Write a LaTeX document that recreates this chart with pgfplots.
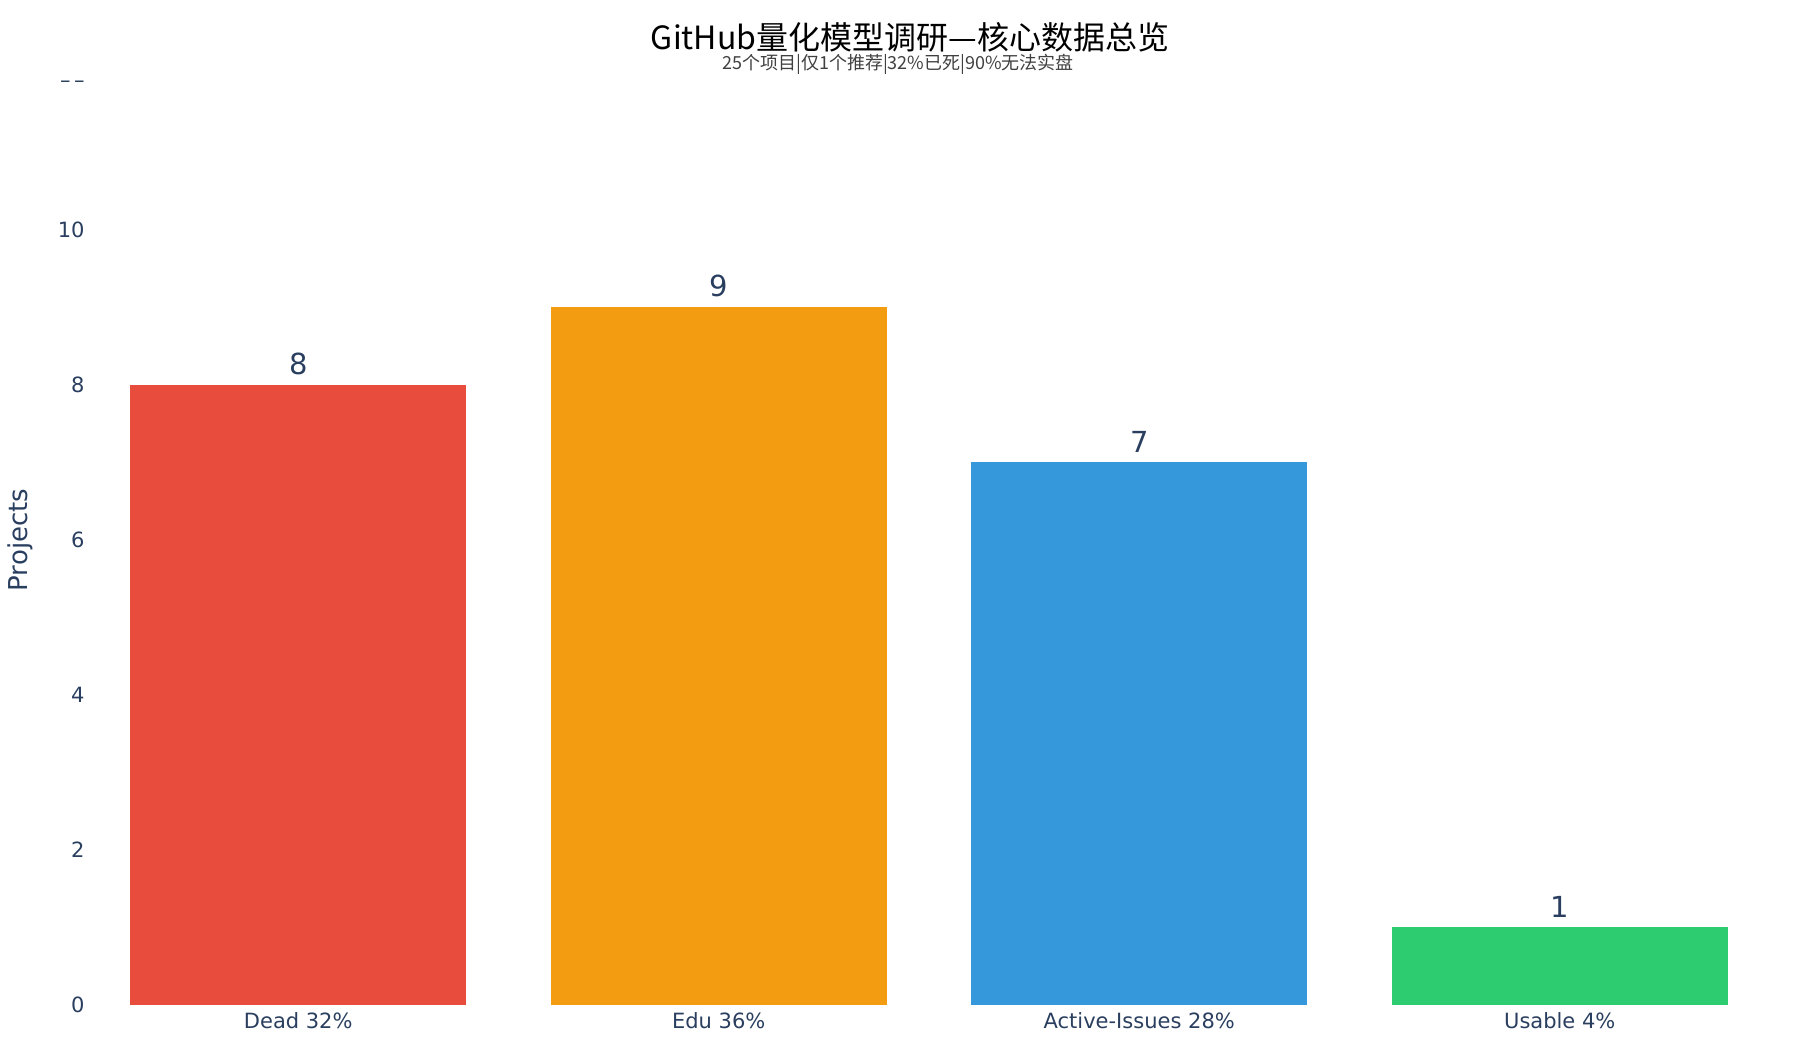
\documentclass[border=0pt]{standalone}
\usepackage{pgfplots}
\pgfplotsset{compat=1.18}
\usepackage{fontspec}
\setmainfont{DejaVu Sans}
\newfontfamily\cjk{Noto Sans CJK SC}

\definecolor{ink}{HTML}{2A3F5F}
\definecolor{cdead}{HTML}{E74C3C}
\definecolor{cedu}{HTML}{F39C12}
\definecolor{cactive}{HTML}{3498DB}
\definecolor{cusable}{HTML}{2ECC71}

\begin{document}
\begin{tikzpicture}[x=1pt,y=1pt]
  \path[use as bounding box] (0,0) rectangle (900,525);

  % title and subtitle
  \node[anchor=base, inner sep=0pt, font=\cjk\fontsize{16}{19}\selectfont, text=black]
    at (455,500) {GitHub量化模型调研—核心数据总览};
  \node[anchor=base, inner sep=0pt, font=\cjk\fontsize{9}{11}\selectfont, text=black!75]
    at (449,490.2) {25个项目|仅1个推荐|32\%已死|90\%无法实盘};

  % y axis title
  \node[rotate=90, inner sep=0pt, font=\fontsize{13}{15}\selectfont, text=ink]
    at (10,255) {Projects};

  \begin{axis}[
    at={(44pt,22.5pt)},
    anchor=south west,
    scale only axis,
    width=841pt,
    height=465pt,
    xmin=-0.5, xmax=3.5,
    ymin=0, ymax=12,
    axis line style={draw=none},
    major tick length=0pt,
    tick style={draw=none},
    xtick={0,1,2,3},
    xticklabels={Dead 32\%, Edu 36\%, Active-Issues 28\%, Usable 4\%},
    ytick={0,2,4,6,8,10},
    yticklabels={0,2,4,6,8,10},
    extra y ticks={12},
    extra y tick labels={\textendash\,\textendash},
    extra y tick style={yticklabel style={yshift=-4.7pt}},
    ticklabel style={font=\fontsize{10.5}{12}\selectfont, text=ink},
    yticklabel style={inner sep=0pt, xshift=-1.5pt},
    ybar,
    bar width=0.8,
    bar shift=0pt,
    nodes near coords={\pgfmathprintnumber[assume math mode=true]{\pgfplotspointmeta}},
    every node near coord/.style={font=\fontsize{14.5}{16}\selectfont, text=ink,
      anchor=south, inner sep=0pt, yshift=5pt},
  ]
    \addplot[fill=cdead, draw=none] coordinates {(0,8)};
    \addplot[fill=cedu, draw=none] coordinates {(1,9)};
    \addplot[fill=cactive, draw=none] coordinates {(2,7)};
    \addplot[fill=cusable, draw=none] coordinates {(3,1)};
  \end{axis}
\end{tikzpicture}
\end{document}
